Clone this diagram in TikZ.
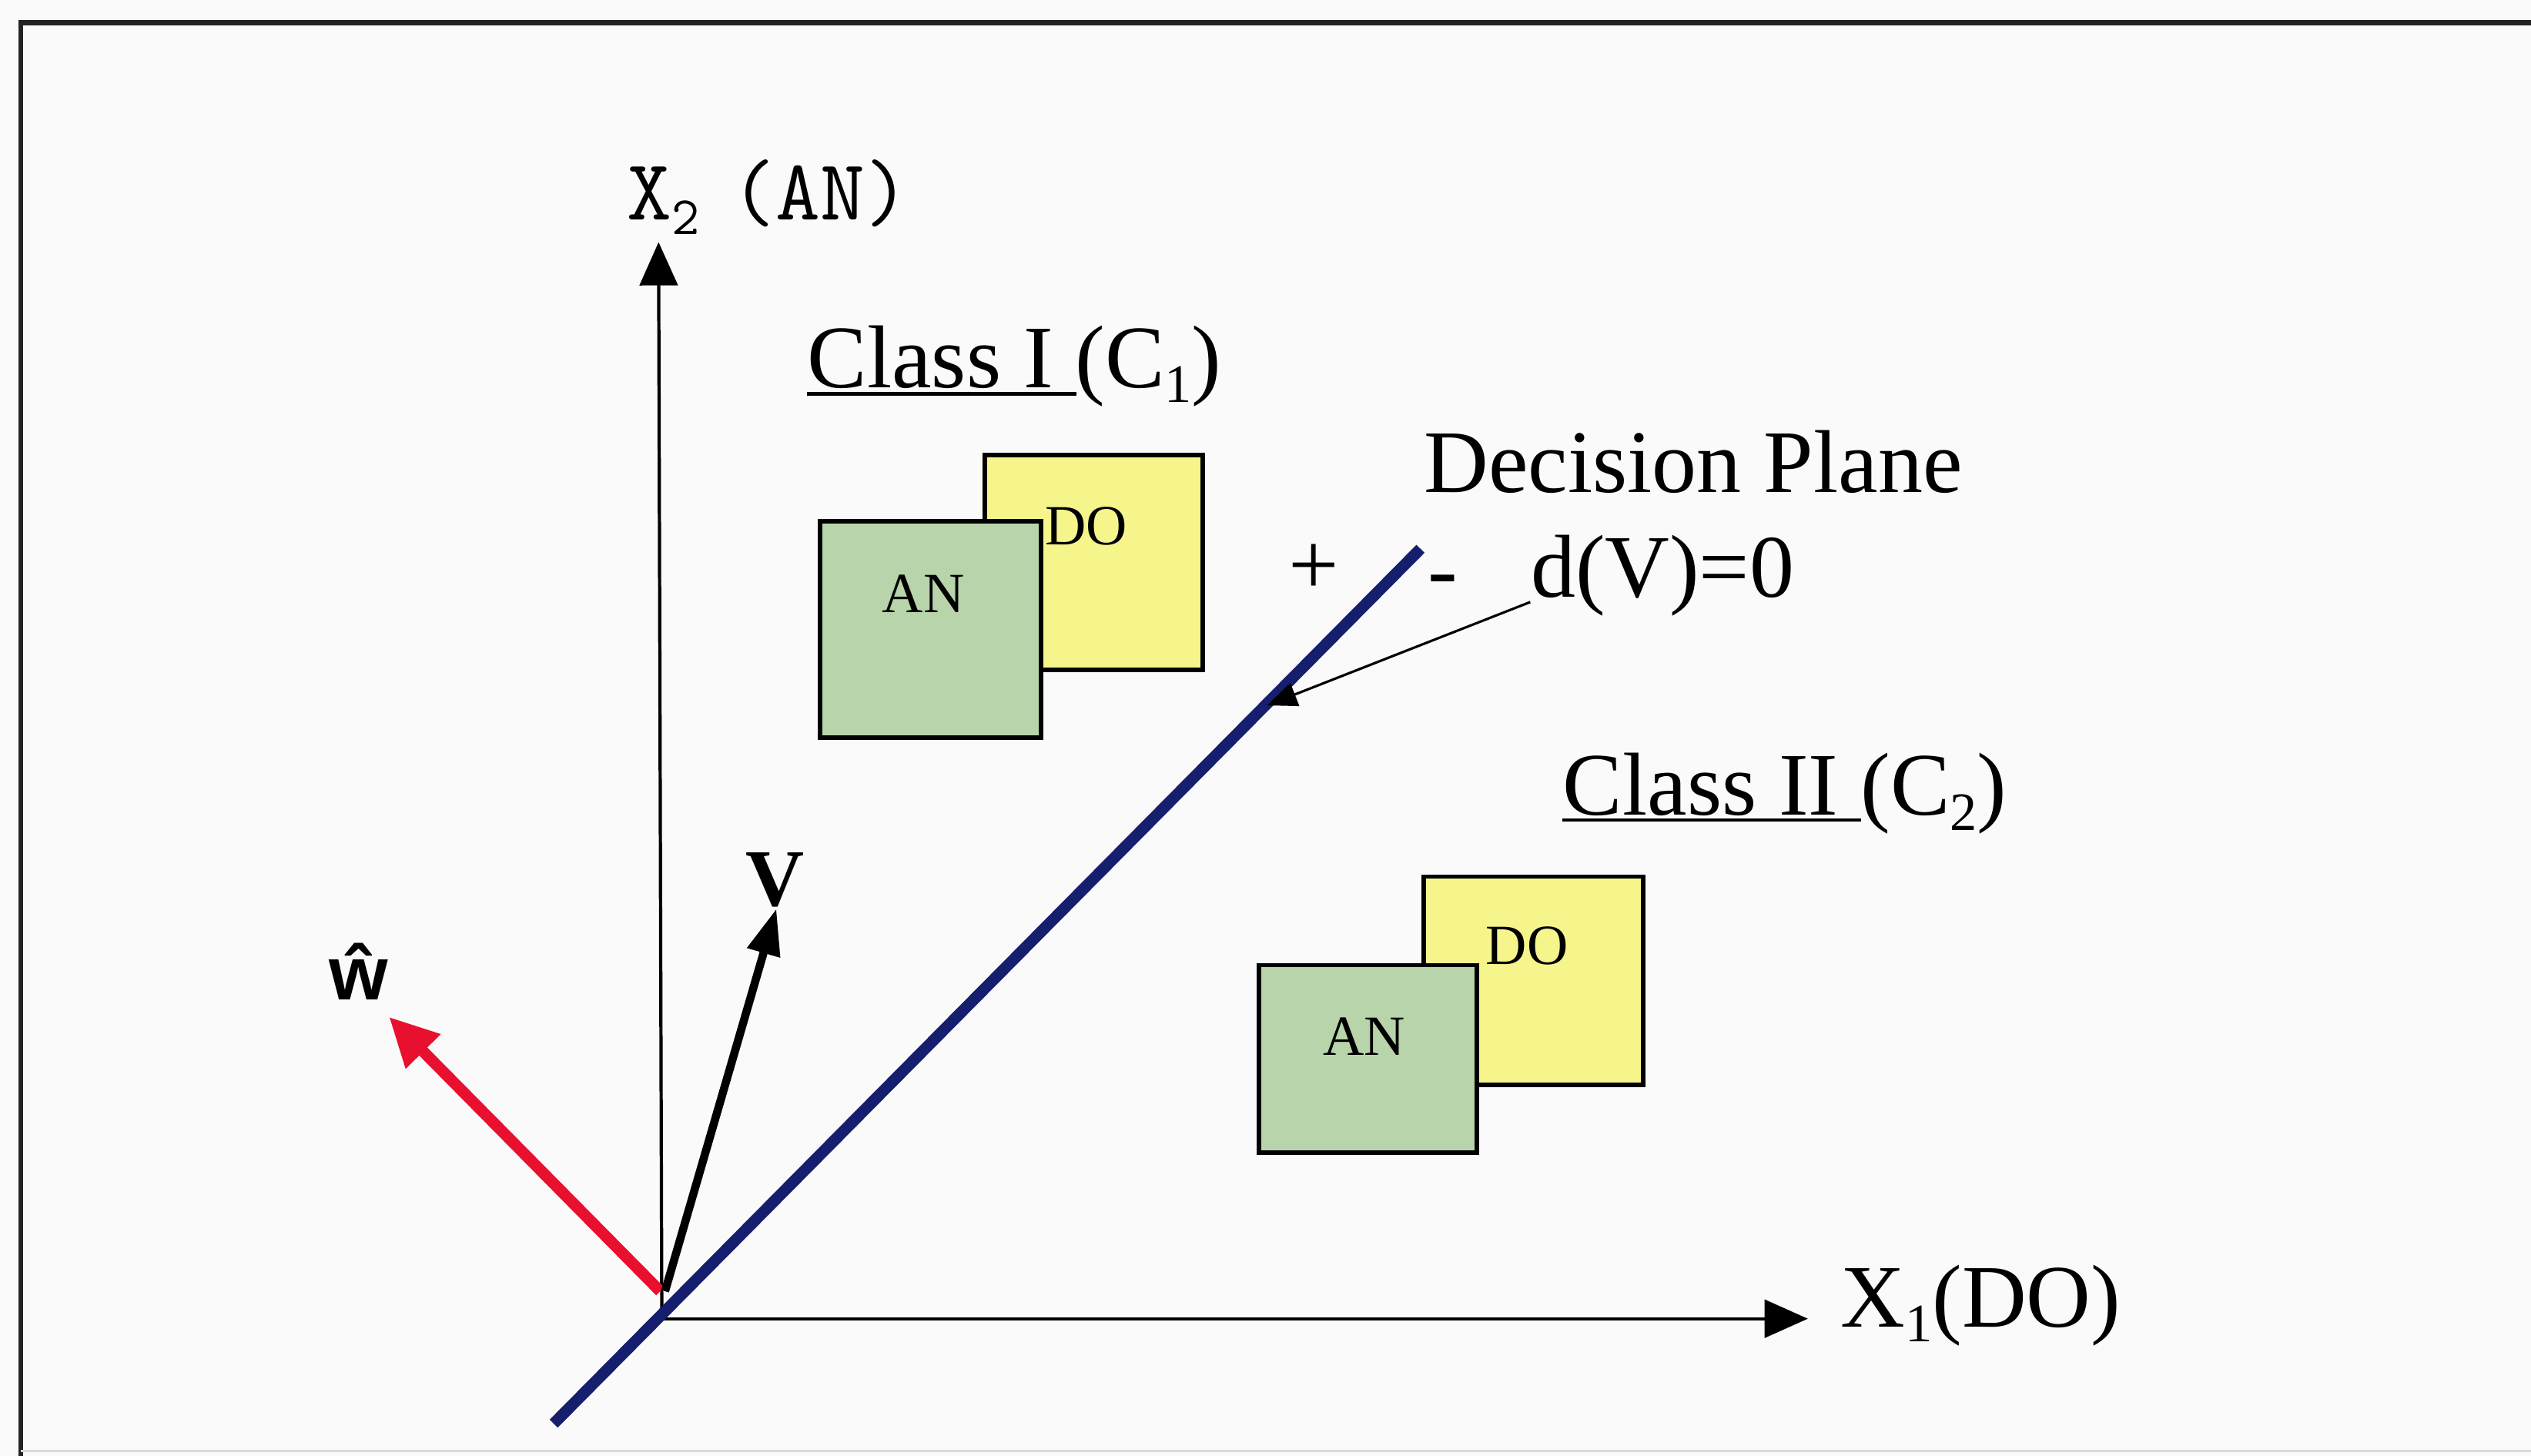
\documentclass[tikz,border=0pt]{standalone}
\usepackage{fontspec}
\setmainfont{Liberation Serif}
\newfontfamily\sansfont{Liberation Sans}
\usetikzlibrary{arrows.meta}
\definecolor{bgc}{RGB}{250,250,250}
\definecolor{framec}{RGB}{35,35,35}
\definecolor{navy}{RGB}{22,30,110}
\definecolor{vred}{RGB}{232,16,46}
\definecolor{boxgreen}{RGB}{184,212,170}
\definecolor{boxyellow}{RGB}{246,245,140}
\newcommand\bigtxt{\fontsize{33}{38}\selectfont}
\newcommand\boxtxt{\fontsize{21}{24}\selectfont}
\newcommand\lsub[1]{\raisebox{-0.17em}{\fontsize{20}{20}\selectfont #1}}
\tikzset{
  axisline/.style={line width=1.2pt, draw=black, -{Triangle[length=16pt,width=14pt]}},
  greenbox/.style={draw=black, line width=1.6pt, fill=boxgreen},
  yellowbox/.style={draw=black, line width=1.6pt, fill=boxyellow},
  lbl/.style={inner sep=0pt, font=\bigtxt},
  boxlbl/.style={inner sep=0pt, font=\boxtxt},
  uline/.style={line width=1.3pt}
}
\begin{document}
\begin{tikzpicture}[x=0.020963cm,y=-0.020963cm]
\fill[bgc] (0,0) rectangle (1568,902);
\useasboundingbox (0,0) rectangle (1568,902);
% frame
\draw[framec, line width=1.8pt] (13,902) -- (13,14) -- (1568,14);
\draw[black!15, line width=0.8pt] (13,899) -- (1568,899);

% key points
\coordinate (O) at (410,817);
\coordinate (Ytip) at (408,150);
\coordinate (Xtip) at (1120,817);
\coordinate (Bstart) at (343,882);
\coordinate (Bend) at (880,340);
\coordinate (Rtail) at (409,800);
\coordinate (Rtip) at (241,630);
\coordinate (Vtail) at (412,800);
\coordinate (Vtip) at (481,563);
\coordinate (Ptip) at (785,437);

% axes
\draw[axisline] (O) -- (Ytip);
\draw[axisline] (O) -- (Xtip);

% class I boxes
\draw[yellowbox] (610,282) rectangle (745,415);
\draw[greenbox] (508,323) rectangle (645,457);
\node[boxlbl] (doI) at (673,326) {DO};
\node[boxlbl] (anI) at (572,368) {AN};

% class II boxes
\draw[yellowbox] (882,543) rectangle (1018,672);
\draw[greenbox] (780,598) rectangle (915,714);
\node[boxlbl] (doII) at (946,586) {DO};
\node[boxlbl] (anII) at (845,642) {AN};

% decision line
\draw[navy, line width=4.2pt] (Bstart) -- (Bend);

% vectors
\draw[vred, line width=4.2pt, -{Triangle[length=18pt,width=17pt]}] (Rtail) -- (Rtip);
\draw[black, line width=3pt, -{Triangle[length=17pt,width=12pt]}] (Vtail) -- (Vtip);

% labels
\node[inner sep=0pt] (x2) at (476,122) {\ttfamily\fontsize{32}{36}\selectfont X\lsub{2}\hspace{-0.15em} (AN)};
\node[lbl, anchor=base west] (cI) at (500,240) {Class I (C\lsub{1})};
\draw[uline] (500,244) -- (667,244);
\node[lbl, anchor=base west] (dp) at (882,305) {Decision Plane};
\node[lbl] (plus) at (814,353) {+};
\node[lbl] (minus) at (894,364) {-};
\node[lbl, anchor=base west] (dv) at (948,370) {d(V)=0};
\coordinate (Pstart) at (948,373);
\draw[line width=0.9pt, -{Triangle[length=11pt,width=9pt]}] (Pstart) -- (Ptip);
\node[lbl, anchor=base west] (cII) at (968,505) {Class II (C\lsub{2})};
\draw[uline] (968,508) -- (1153,508);
\node[lbl, anchor=base west] (x1) at (1140,822) {X\lsub{1}(DO)};
\node[inner sep=0pt, font=\fontsize{30}{34}\selectfont\bfseries] (vl) at (480,545) {V};
\node[inner sep=0pt, font=\sansfont\bfseries\fontsize{28}{32}\selectfont] (wl) at (222,602) {ŵ};
\end{tikzpicture}
\end{document}
